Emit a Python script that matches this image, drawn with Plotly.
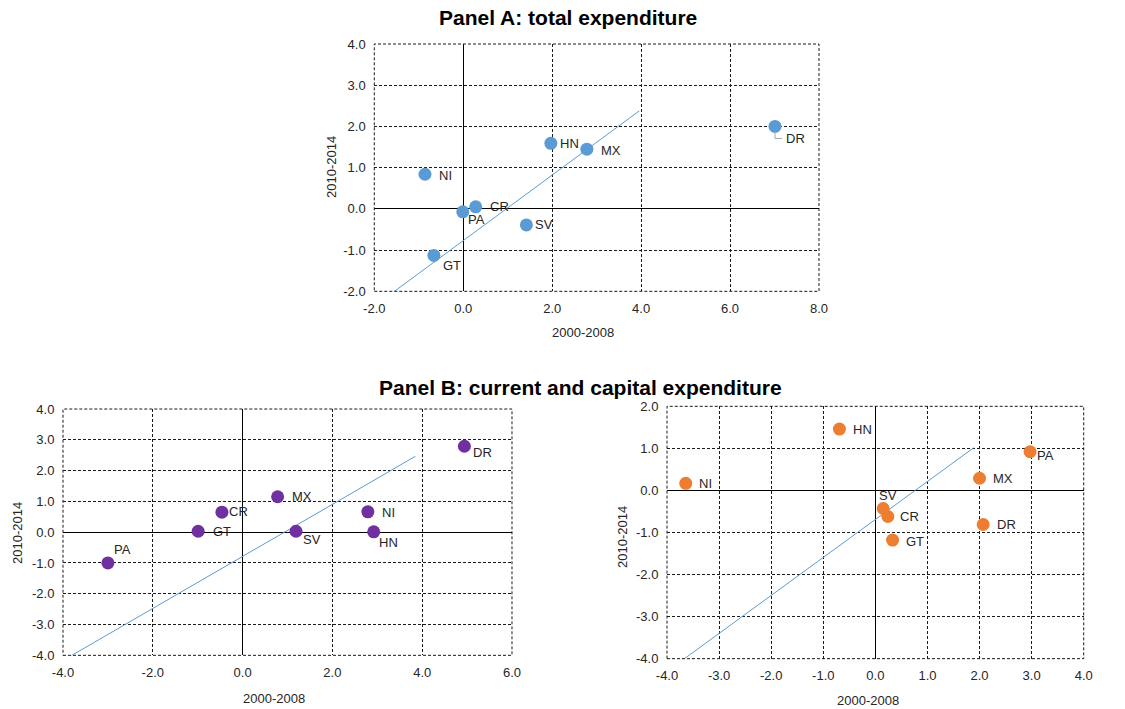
import plotly.graph_objects as go

FONT = "Liberation Sans, Arial, sans-serif"
TEXT_COLOR = "#262626"

# ---- Panel A: total expenditure ----
a_countries = ["NI", "PA", "CR", "GT", "SV", "HN", "MX", "DR"]
a_x = [-0.86, -0.01, 0.28, -0.66, 1.42, 1.97, 2.78, 7.01]
a_y = [0.84, -0.07, 0.05, -1.13, -0.39, 1.59, 1.45, 2.00]
a_trend_slope, a_trend_icept = 0.795, -0.77
a_trend_span = [-1.93, 3.96]
a_xticks = [-2, 0, 2, 4, 6, 8]
a_yticks = [-2, -1, 0, 1, 2, 3, 4]

# ---- Panel B (left): current expenditure ----
bl_countries = ["PA", "GT", "CR", "MX", "SV", "NI", "HN", "DR"]
bl_x = [-3.00, -0.99, -0.46, 0.78, 1.19, 2.79, 2.92, 4.94]
bl_y = [-1.00, 0.03, 0.65, 1.15, 0.03, 0.66, 0.01, 2.79]
bl_trend_slope, bl_trend_icept = 0.845, -0.787
bl_trend_span = [-4.11, 3.85]
bl_xticks = [-4, -2, 0, 2, 4, 6]
bl_yticks = [-4, -3, -2, -1, 0, 1, 2, 3, 4]

# ---- Panel B (right): capital expenditure ----
br_countries = ["HN", "NI", "SV", "CR", "GT", "MX", "DR", "PA"]
br_x = [-0.69, -3.64, 0.15, 0.24, 0.33, 2.00, 2.07, 2.97]
br_y = [1.46, 0.17, -0.43, -0.62, -1.18, 0.29, -0.81, 0.92]
br_trend_slope, br_trend_icept = 0.903, -0.69
br_trend_span = [-3.94, 1.89]
br_xticks = [-4, -3, -2, -1, 0, 1, 2, 3, 4]
br_yticks = [-4, -3, -2, -1, 0, 1, 2]

# label offsets in pixels (right, down) from each marker
a_offsets = [(21, 1), (14, 8), (24, 0), (18, 10), (18, 0), (19, 0), (24, 1), (21, 12)]
bl_offsets = [(15, -13), (24, 0), (17, -1), (24, 0), (16, 8), (21, 1), (15, 11), (18, 6)]
br_offsets = [(23, 0), (20, 0), (5, -13), (22, 0), (22, 1), (23, 0), (23, 0), (15, 4)]

fig = go.Figure()

panels = [
    ("x", "y", a_countries, a_x, a_y, a_trend_slope, a_trend_icept, a_trend_span, a_offsets, "#5B9BD5"),
    ("x2", "y2", bl_countries, bl_x, bl_y, bl_trend_slope, bl_trend_icept, bl_trend_span, bl_offsets, "#7030A0"),
    ("x3", "y3", br_countries, br_x, br_y, br_trend_slope, br_trend_icept, br_trend_span, br_offsets, "#ED7D31"),
]

annotations = []
for xa, ya, names, xs, ys, slope, icept, span, offs, color in panels:
    fig.add_trace(go.Scatter(
        x=span, y=[slope * v + icept for v in span], mode="lines",
        line=dict(color="#5B9BD5", width=1), xaxis=xa, yaxis=ya,
        hoverinfo="skip", showlegend=False))
    fig.add_trace(go.Scatter(
        x=xs, y=ys, mode="markers", text=names,
        marker=dict(color=color, size=13, line=dict(width=0)),
        xaxis=xa, yaxis=ya, showlegend=False, cliponaxis=False))
    for name, xv, yv, (dx, dy) in zip(names, xs, ys, offs):
        annotations.append(dict(
            x=xv, y=yv, xref=xa, yref=ya, text=name, showarrow=False,
            xshift=dx, yshift=-dy, font=dict(family=FONT, size=13, color=TEXT_COLOR)))


def axis(domain, ticks, anchor):
    return dict(domain=domain, range=[ticks[0], ticks[-1]], anchor=anchor,
                tickmode="array", tickvals=ticks, ticktext=[f"{v:.1f}" for v in ticks],
                showgrid=True, gridcolor="#1a1a1a", gridwidth=1, griddash="3px,2px",
                zeroline=True, zerolinecolor="black", zerolinewidth=1,
                showline=False, ticks="outside", ticklen=5, tickcolor="rgba(0,0,0,0)",
                tickfont=dict(family=FONT, size=13, color=TEXT_COLOR),
                automargin=False, fixedrange=True)


fig.update_layout(
    width=1125, height=709, margin=dict(l=0, r=0, t=0, b=0, autoexpand=False),
    paper_bgcolor="white", plot_bgcolor="white",
    font=dict(family=FONT, color=TEXT_COLOR),
    xaxis=axis([0.3327, 0.728], a_xticks, "y"),
    yaxis=axis([0.5891, 0.9379], a_yticks, "x"),
    xaxis2=axis([0.056, 0.4551], bl_xticks, "y2"),
    yaxis2=axis([0.0757, 0.4231], bl_yticks, "x2"),
    xaxis3=axis([0.5929, 0.9633], br_xticks, "y3"),
    yaxis3=axis([0.0710, 0.4269], br_yticks, "x3"),
)

# dashed frame around each plotting area
shapes = []
for xa, ya in [("x", "y"), ("x2", "y2"), ("x3", "y3")]:
    shapes.append(dict(type="rect", xref=f"{xa} domain", yref=f"{ya} domain",
                       x0=0, x1=1, y0=0, y1=1,
                       line=dict(color="#1a1a1a", width=1, dash="3px,2px")))

# leader line for the DR label in panel A
shapes.append(dict(type="path", xref="x", yref="y", xsizemode="pixel", ysizemode="pixel",
                   xanchor=a_x[-1], yanchor=a_y[-1], path="M 0 -5 L 0 -12 L 7 -12",
                   line=dict(color="#A6A6A6", width=1)))

# titles
W, H = 1125, 709
def txt(text, px, py, size=13, bold=False, angle=0):
    return dict(text=f"<b>{text}</b>" if bold else text, x=px / W, y=1 - py / H,
                xref="paper", yref="paper", showarrow=False, textangle=angle,
                xanchor="center", yanchor="middle",
                font=dict(family=FONT, size=size, color="black" if bold else TEXT_COLOR))

annotations += [
    txt("Panel A: total expenditure", 568, 18, 21, True),
    txt("Panel B: current and capital expenditure", 580, 387, 21, True),
    txt("2000-2008", 583, 333),
    txt("2010-2014", 332, 167, angle=-90),
    txt("2000-2008", 274, 698),
    txt("2010-2014", 17, 533, angle=-90),
    txt("2000-2008", 868, 700),
    txt("2010-2014", 622, 537, angle=-90),
]

fig.update_layout(annotations=annotations, shapes=shapes)
fig.write_html("out.html")
